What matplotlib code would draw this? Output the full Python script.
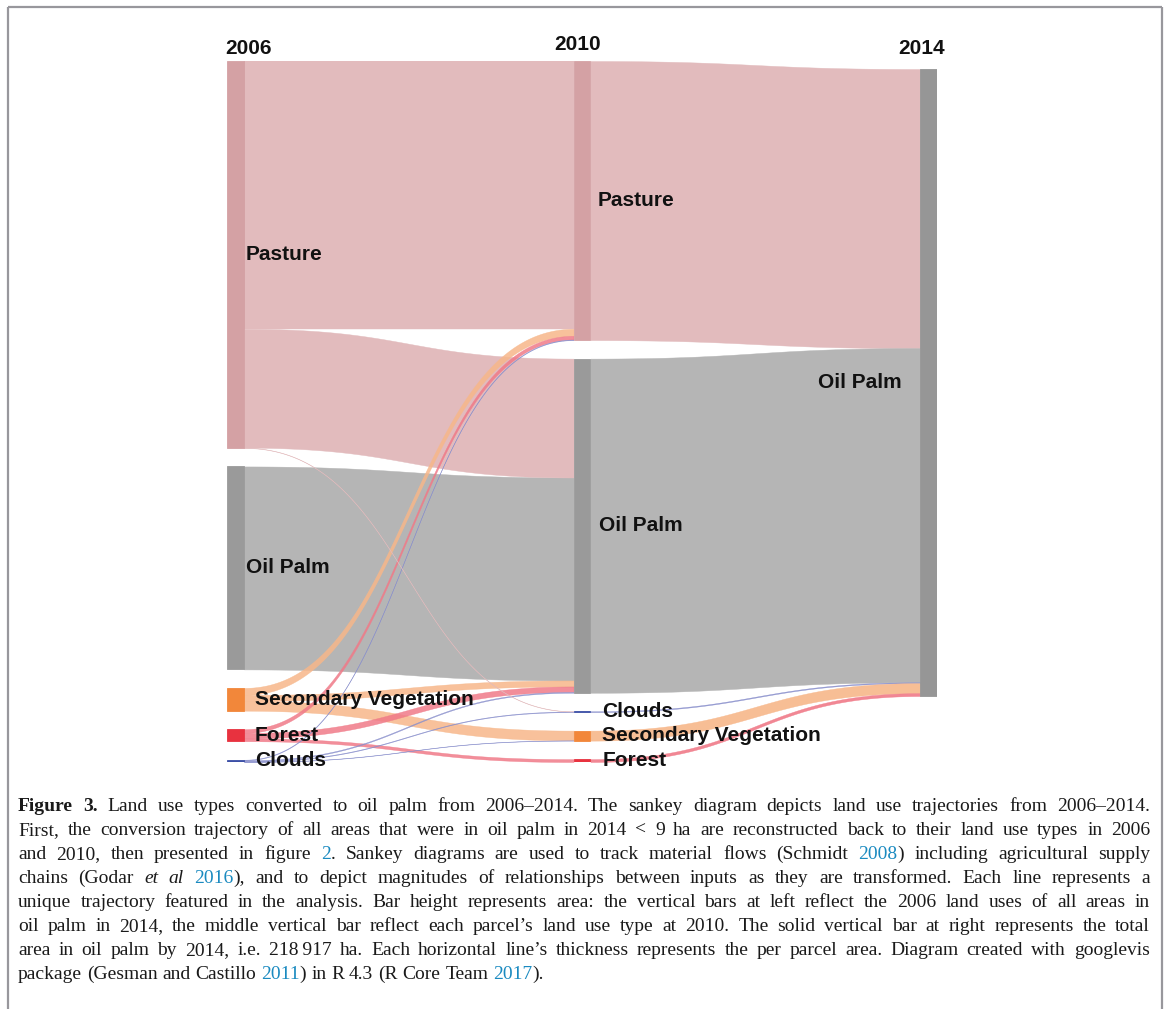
import matplotlib
matplotlib.use('Agg')
import matplotlib.pyplot as plt
import numpy as np

W, H, DPI = 1167, 1009, 100

# ---------------- data ----------------
years = ['2006', '2010', '2014']
nodes_2006 = ['Pasture', 'Oil Palm', 'Secondary Vegetation', 'Forest', 'Clouds']
nodes_2010 = ['Pasture', 'Oil Palm', 'Clouds', 'Secondary Vegetation', 'Forest']
nodes_2014 = ['Oil Palm']

# flows 2006 -> 2010 (ha)
flow_src_2006 = ['Pasture', 'Pasture', 'Pasture', 'Oil Palm',
                 'Secondary Vegetation', 'Secondary Vegetation', 'Secondary Vegetation',
                 'Forest', 'Forest', 'Forest',
                 'Clouds', 'Clouds', 'Clouds', 'Clouds']
flow_dst_2010 = ['Pasture', 'Oil Palm', 'Clouds', 'Oil Palm',
                 'Pasture', 'Oil Palm', 'Secondary Vegetation',
                 'Pasture', 'Oil Palm', 'Forest',
                 'Pasture', 'Oil Palm', 'Clouds', 'Secondary Vegetation']
flow_ha = [93500, 41500, 100, 70867,
           2450, 2100, 3400,
           1300, 1900, 1000,
           200, 300, 200, 100]

node_colors = {'Pasture': '#d4a1a4', 'Oil Palm': '#9a9a9a',
               'Secondary Vegetation': '#f2873a', 'Forest': '#e8323f',
               'Clouds': '#3c4fa6'}
link_colors = {'Pasture': '#e2bbbd', 'Oil Palm': '#b5b5b5',
               'Secondary Vegetation': '#f7b78a', 'Forest': '#f07a88',
               'Clouds': '#8a90cc'}

caption_lines = [
    "*Figure 3.* Land use types converted to oil palm from 2006–2014. The sankey diagram depicts land use trajectories from 2006–2014.",
    "First, the conversion trajectory of all areas that were in oil palm in 2014 < 9 ha are reconstructed back to their land use types in 2006",
    "and 2010, then presented in figure [2]. Sankey diagrams are used to track material flows (Schmidt [2008]) including agricultural supply",
    "chains (Godar _et al_ [2016]), and to depict magnitudes of relationships between inputs as they are transformed. Each line represents a",
    "unique trajectory featured in the analysis. Bar height represents area: the vertical bars at left reflect the 2006 land uses of all areas in",
    "oil palm in 2014, the middle vertical bar reflect each parcel’s land use type at 2010. The solid vertical bar at right represents the total",
    "area in oil palm by 2014, i.e. 218\u2009917 ha. Each horizontal line’s thickness represents the per parcel area. Diagram created with googlevis",
    "package (Gesman and Castillo [2011]) in R 4.3 (R Core Team [2017]).",
]

# ---------------- figure ----------------
fig = plt.figure(figsize=(W / DPI, H / DPI), dpi=DPI)
fig.patch.set_facecolor('white')

bg = fig.add_axes([0, 0, 1, 1])
bg.set_xlim(0, W)
bg.set_ylim(H, 0)
bg.axis('off')
# frame (left, top, right)
frame_c = '#98979c'
bg.plot([8, 8], [H, 7], color=frame_c, lw=1.6, solid_capstyle='butt')
bg.plot([8, 1162], [7, 7], color=frame_c, lw=1.6, solid_capstyle='butt')
bg.plot([1162, 1162], [7, H], color=frame_c, lw=1.6, solid_capstyle='butt')

# sankey axes
left_px, right_px, top_px, bot_px = 227, 937, 61, 762
ax = fig.add_axes([left_px / W, 1 - bot_px / H, (right_px - left_px) / W, (bot_px - top_px) / H])
ax.axis('off')
ax.patch.set_alpha(0)

col_step_px = 347.0
nw = 17.0 / col_step_px
col_x = [0.0, 1.0, 2.0]
ax.set_xlim(0, 2 + nw)

total = float(sum(flow_ha))
gap = 0.0295 * total
span = total + 4 * gap
ax.set_ylim(span, 0)
offset2 = 8.0 / (bot_px - top_px) * span

# node sizes
size0 = {n: 0.0 for n in nodes_2006}
size1 = {n: 0.0 for n in nodes_2010}
for s, d, v in zip(flow_src_2006, flow_dst_2010, flow_ha):
    size0[s] += v
    size1[d] += v
size2 = {'Oil Palm': total}


def col_layout(names, sizes, offset):
    pos = {}
    y = offset
    for n in names:
        pos[n] = [y, y + sizes[n]]
        y += sizes[n] + gap
    return pos


pos0 = col_layout(nodes_2006, size0, 0.0)
pos1 = col_layout(nodes_2010, size1, 0.0)
pos2 = col_layout(nodes_2014, size2, offset2)


def ribbon(x0, x1, y0a, y0b, y1a, y1b, color, alpha, z):
    u = np.linspace(0, 1, 200)
    xs = x0 + (x1 - x0) * (1.5 * u - 1.5 * u ** 2 + u ** 3)
    s = 3 * u ** 2 - 2 * u ** 3
    top = y0a + (y1a - y0a) * s
    bot = y0b + (y1b - y0b) * s
    ax.fill_between(xs, top, bot, color=color, alpha=alpha, lw=0.3,
                    edgecolor=color, zorder=z)


# links 2006 -> 2010
links = list(zip(flow_src_2006, flow_dst_2010, flow_ha))
out_cursor = {n: pos0[n][0] for n in nodes_2006}
in_cursor = {n: pos1[n][0] for n in nodes_2010}
src_ends = {}
for s in nodes_2006:
    for (a, b, v) in sorted([l for l in links if l[0] == s], key=lambda l: nodes_2010.index(l[1])):
        src_ends[(a, b)] = (out_cursor[s], out_cursor[s] + v)
        out_cursor[s] += v
dst_ends = {}
for d in nodes_2010:
    for (a, b, v) in sorted([l for l in links if l[1] == d], key=lambda l: nodes_2006.index(l[0])):
        dst_ends[(a, b)] = (in_cursor[d], in_cursor[d] + v)
        in_cursor[d] += v

for (a, b, v) in sorted(links, key=lambda l: -l[2]):
    y0a, y0b = src_ends[(a, b)]
    y1a, y1b = dst_ends[(a, b)]
    big = v > 20000
    ribbon(col_x[0] + nw, col_x[1], y0a, y0b, y1a, y1b, link_colors[a],
           1.0 if big else 0.85, 1 if big else 2)

# links 2010 -> 2014
cur2 = pos2['Oil Palm'][0]
for n in nodes_2010:
    v = size1[n]
    big = v > 20000
    ribbon(col_x[1] + nw, col_x[2], pos1[n][0], pos1[n][1], cur2, cur2 + v,
           link_colors[n], 1.0 if big else 0.9, 1 if big else 2)
    cur2 += v

# nodes
for cx, pos, names in [(col_x[0], pos0, nodes_2006), (col_x[1], pos1, nodes_2010),
                       (col_x[2], pos2, nodes_2014)]:
    for n in names:
        y0, y1 = pos[n]
        c = node_colors[n] if cx < 2 else '#969696'
        ax.bar(cx, y1 - y0, bottom=y0, width=nw, align='edge', color=c,
               edgecolor=c, linewidth=0.6, zorder=5)

# node labels (offsets in pixels from node edge)
lab_font = dict(fontsize=15, fontweight='bold', family=['Liberation Sans', 'DejaVu Sans'],
                color='#111111', zorder=6)
pad0 = {'Pasture': 2, 'Oil Palm': 2, 'Secondary Vegetation': 11, 'Forest': 11, 'Clouds': 11}
pad1 = {'Pasture': 7, 'Oil Palm': 9, 'Secondary Vegetation': 12, 'Forest': 12, 'Clouds': 12}
for cx, pos, names, pads in [(col_x[0], pos0, nodes_2006, pad0), (col_x[1], pos1, nodes_2010, pad1)]:
    for n in names:
        yc = 0.5 * (pos[n][0] + pos[n][1])
        ax.annotate(n, xy=(cx + nw, yc), xytext=(pads[n] * 0.72, 0), textcoords='offset points',
                    ha='left', va='center', **lab_font)
for n in nodes_2014:
    yc = 0.5 * (pos2[n][0] + pos2[n][1])
    ax.annotate(n, xy=(col_x[2], yc), xytext=(-13, 0), textcoords='offset points',
                ha='right', va='center', **lab_font)

# year labels
year_font = dict(fontsize=15, fontweight='bold', family=['Liberation Sans', 'DejaVu Sans'],
                 color='#111111')
bg.text(225, 48, years[0], ha='left', va='center', **year_font)
bg.text(578, 45, years[1], ha='center', va='center', **year_font)
bg.text(922, 48, years[2], ha='center', va='center', **year_font)

# ---------------- caption (justified) ----------------
serif = ['Liberation Serif', 'DejaVu Serif']
link_blue = '#1a8ac0'


def parse(line):
    words, cur, buf = [], [], ['']
    st = {'b': False, 'i': False, 'l': False}

    def flush():
        if buf[0]:
            cur.append((buf[0], (st['b'], st['i'], st['l'])))
            buf[0] = ''
    for ch in line:
        if ch in '*_[]':
            flush()
            if ch == '*':
                st['b'] = not st['b']
            elif ch == '_':
                st['i'] = not st['i']
            elif ch == '[':
                st['l'] = True
            else:
                st['l'] = False
        elif ch == ' ':
            flush()
            if cur:
                words.append(list(cur))
                cur.clear()
        else:
            buf[0] += ch
    flush()
    if cur:
        words.append(list(cur))
    return words


renderer = fig.canvas.get_renderer()


def make_text(x, y, s, st, size):
    return fig.text(x / W, 1 - y / H, s, fontsize=size, family=serif,
                    fontweight='bold' if st[0] else 'normal',
                    fontstyle='italic' if st[1] else 'normal',
                    color=link_blue if st[2] else '#1a1a1a', va='baseline', ha='left')


def width(s, st, size):
    t = make_text(0, 0, s, st, size)
    w = t.get_window_extent(renderer).width
    t.remove()
    return w


parsed = [parse(l) for l in caption_lines]
cap_left, cap_right = 18, 1150
target = cap_right - cap_left
size = 14.0
plain = (False, False, False)
for _ in range(2):
    sp = width('a a', plain, size) - width('aa', plain, size)
    nat = []
    for words in parsed:
        ws = sum(width(r[0], r[1], size) for w in words for r in w)
        nat.append(ws + sp * (len(words) - 1))
    size = size * min(1.0, 0.99 * target / max(nat))

sp = width('a a', plain, size) - width('aa', plain, size)
base_y = 811
line_h = 24
for li, words in enumerate(parsed):
    y = base_y + li * line_h
    wws = [sum(width(r[0], r[1], size) for r in w) for w in words]
    if li < len(parsed) - 1 and len(words) > 1:
        g = (target - sum(wws)) / (len(words) - 1)
    else:
        g = sp
    x = cap_left
    for w, ww in zip(words, wws):
        xx = x
        for (s, st) in w:
            make_text(xx, y, s, st, size)
            xx += width(s, st, size)
        x += ww + g

fig.savefig('out.png', dpi=DPI, facecolor='white')
